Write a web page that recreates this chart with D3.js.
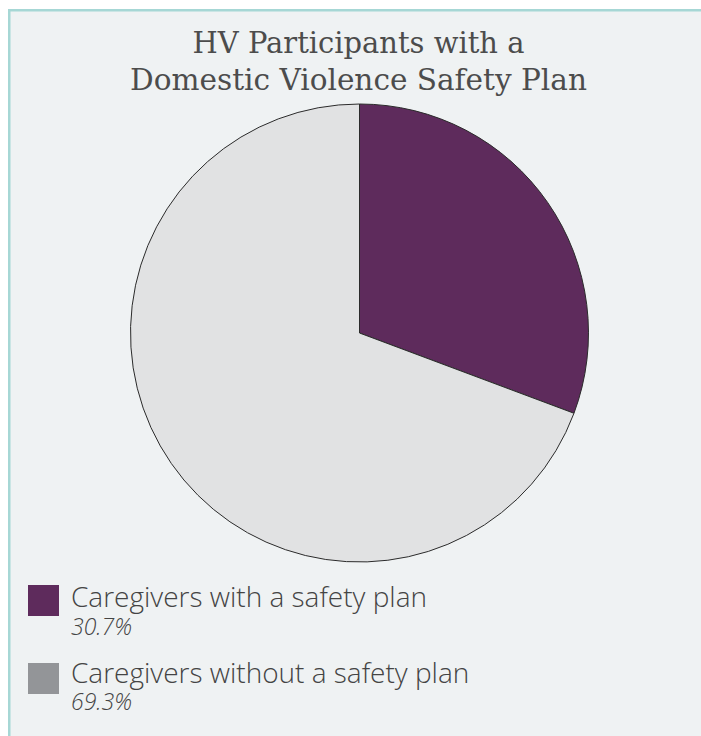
<!DOCTYPE html>
<html>
<head>
<meta charset="utf-8">
<script src="https://cdn.jsdelivr.net/npm/d3@7"></script>
<style>
  html, body { margin: 0; padding: 0; background: #ffffff; }
  svg { display: block; }
</style>
</head>
<body>
<svg id="chart" width="701" height="736"></svg>
<script>
// Share of home-visiting caregivers with a domestic violence safety plan
const titleLines = ["HV Participants with a", "Domestic Violence Safety Plan"];
const categories = ["Caregivers with a safety plan", "Caregivers without a safety plan"];
const shares = [30.7, 69.3];
const shareLabels = ["30.7%", "69.3%"];
const sliceColors = ["#5e2b5c", "#e1e2e3"];
const swatchColors = ["#5e2b5c", "#939598"];

const svg = d3.select("#chart");

// panel with teal top and left rule
svg.append("rect").attr("x", 9).attr("y", 10).attr("width", 692).attr("height", 726).attr("fill", "#eff2f3");
svg.append("rect").attr("x", 8).attr("y", 9).attr("width", 693).attr("height", 2.5).attr("fill", "#a6d7d5");
svg.append("rect").attr("x", 8).attr("y", 9).attr("width", 2.5).attr("height", 727).attr("fill", "#a6d7d5");

// fit a text element to a target width by adjusting its font size
function fitWidth(sel, target) {
  const node = sel.node();
  const fs = parseFloat(sel.attr("font-size"));
  const w = node.getComputedTextLength();
  if (w > 0) sel.attr("font-size", (fs * target / w).toFixed(2));
}

// title
const titleSpecs = [{ y: 53, w: 332 }, { y: 90, w: 457 }];
titleLines.forEach((t, i) => {
  const el = svg.append("text")
    .attr("x", 358.5).attr("y", titleSpecs[i].y)
    .attr("text-anchor", "middle")
    .attr("font-family", "'DejaVu Serif', serif")
    .attr("font-size", 28)
    .attr("fill", "#4c4c4c")
    .text(t);
  fitWidth(el, titleSpecs[i].w);
});

// pie, starting at 12 o'clock and running clockwise
const cx = 359.5, cy = 333, radius = 229;
const pie = d3.pie().sort(null).value(d => d)(shares);
const arc = d3.arc().innerRadius(0).outerRadius(radius);
const g = svg.append("g").attr("transform", `translate(${cx},${cy})`);
g.selectAll("path")
  .data(pie)
  .join("path")
  .attr("d", arc)
  .attr("fill", (d, i) => sliceColors[i])
  .attr("stroke", "#2b2b2b")
  .attr("stroke-width", 1)
  .attr("stroke-linejoin", "round");

// legend
const swatchTop = [585, 663];
const labelBase = [607, 683];
const shareBase = [635, 710];
const legend = svg.append("g");
let labelSize = null;
categories.forEach((c, i) => {
  legend.append("rect")
    .attr("x", 28).attr("y", swatchTop[i]).attr("width", 31).attr("height", 31)
    .attr("fill", swatchColors[i]);
  const lab = legend.append("text")
    .attr("x", 71).attr("y", labelBase[i])
    .attr("font-family", "'Open Sans', sans-serif")
    .attr("font-weight", 300)
    .attr("font-size", labelSize || 24)
    .attr("fill", "#444")
    .text(c);
  if (labelSize === null) { fitWidth(lab, 356); labelSize = lab.attr("font-size"); }
  const pct = legend.append("text")
    .attr("x", 71).attr("y", shareBase[i])
    .attr("font-family", "'Open Sans', sans-serif")
    .attr("font-weight", 300)
    .attr("font-style", "italic")
    .attr("font-size", 22)
    .attr("fill", "#444")
    .text(shareLabels[i]);
  fitWidth(pct, 61);
});
</script>
</body>
</html>
